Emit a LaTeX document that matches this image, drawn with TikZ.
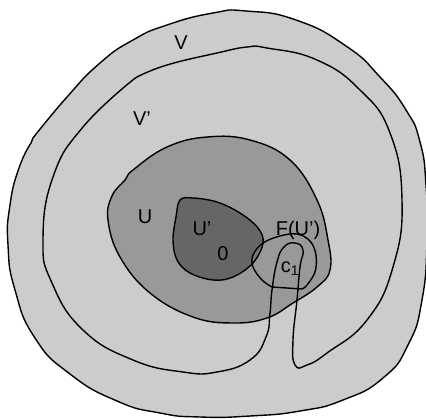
\documentclass[tikz,border=0pt]{standalone}
\usepackage{fontspec}
\setmainfont{Liberation Sans}
\definecolor{light}{HTML}{CCCCCC}
\definecolor{mid}{HTML}{999999}
\definecolor{dark}{HTML}{666666}
\definecolor{lens}{HTML}{777777}
\tikzset{
  edge/.style={line width=1.4pt, line join=round},
  lbl/.style={font=\fontsize{20}{22}\selectfont, inner sep=0pt}
}
\begin{document}
\begin{tikzpicture}[x=1pt,y=-1pt]
\useasboundingbox (0,0) rectangle (426,418);
% outer set V
\filldraw[edge, fill=light] plot[smooth, tension=0.9] coordinates {(33,138) (67,97) (100,63) (133,40) (167,25) (213,13) (246,11) (296,20) (346,46) (380,77) (406,110) (420,142) (426,185) (427,240) (422,300) (408,345) (383,378) (343,400) (300,411) (250,416) (200,417) (160,413) (117,401) (70,374) (35,338) (15,290) (8,245) (10,205) (19,168) (31,143)} -- cycle;
% U
\fill[mid] plot[smooth cycle, tension=0.7] coordinates {(133,170) (167,147) (207,137) (250,140) (290,160) (317,200) (328,240) (330,270) (317,287) (293,303) (267,318) (233,323) (193,317) (150,293) (120,257) (108,220) (112,196) (125,180)};
% U'
\fill[dark] plot[smooth cycle, tension=0.6] coordinates {(180,200) (193,198) (217,202) (240,213) (258,228) (263,243) (253,263) (233,277) (213,280) (190,273) (177,260) (173,240) (176,217)};
% lens where F(U') meets U'
\begin{scope}
\clip plot[smooth cycle, tension=0.6] coordinates {(180,200) (193,198) (217,202) (240,213) (258,228) (263,243) (253,263) (233,277) (213,280) (190,273) (177,260) (173,240) (176,217)};
\fill[lens] (302,289) -- (272,287) plot[smooth, tension=0.6] coordinates {(272,287) (262,280) (253,267) (253,255) (263,243) (280,236) (297,234) (310,241) (316,255) (315,272) (307,285) (302,289)} -- cycle;
\end{scope}
% boundaries
\draw[edge] plot[smooth cycle, tension=0.7] coordinates {(133,170) (167,147) (207,137) (250,140) (290,160) (317,200) (328,240) (330,270) (317,287) (293,303) (267,318) (233,323) (193,317) (150,293) (120,257) (108,220) (112,196) (125,180)};
\draw[edge] plot[smooth cycle, tension=0.6] coordinates {(180,200) (193,198) (217,202) (240,213) (258,228) (263,243) (253,263) (233,277) (213,280) (190,273) (177,260) (173,240) (176,217)};
\draw[edge] (302,289) -- (272,287) plot[smooth, tension=0.6] coordinates {(272,287) (262,280) (253,267) (253,255) (263,243) (280,236) (297,234) (310,241) (316,255) (315,272) (307,285) (302,289)};
% V'
\draw[edge] plot[smooth, tension=0.8] coordinates {(137,77) (167,65) (217,53) (247,47) (267,48) (317,60) (360,90) (390,133) (402,200) (393,267) (367,320) (327,353) (307,365) (295,365) (293,340) (297,300) (300,267) (303,250) (295,243) (284,247) (277,262) (272,290) (270,313) (266,337) (250,360) (217,372) (183,372) (133,360) (83,330) (52,283) (43,240) (53,177) (83,127) (134,79)} -- cycle;
% labels
\node[lbl] (v) at (181,43) {V};
\node[lbl] (vp) at (142,119) {V’};
\node[lbl] (u) at (145,217) {U};
\node[lbl] (up) at (202,229) {U’};
\node[lbl] (zero) at (223,254) {0};
\node[lbl] (fu) at (298,230) {F(U’)};
\node[lbl] (c) at (290,269) {c\textsubscript{1}};
\end{tikzpicture}
\end{document}
